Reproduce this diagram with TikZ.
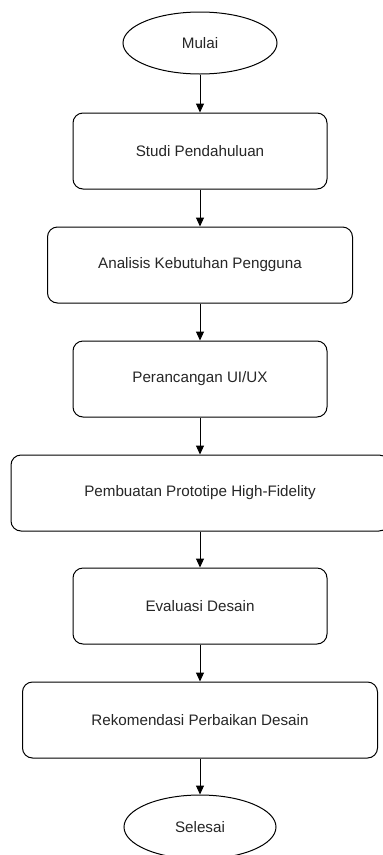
\documentclass[tikz,border=0pt]{standalone}
\usepackage{fontspec}
\setmainfont{Liberation Sans}
\usetikzlibrary{shapes.geometric,arrows.meta}
\begin{document}
\begin{tikzpicture}[x=1pt,y=-1pt,
  every node/.style={font=\fontsize{15.2}{18}\selectfont, text=black!85},
  procbox/.style={draw=black, line width=1pt, rounded corners=10pt, minimum height=76pt, inner sep=0pt},
  terminal/.style={draw=black, line width=1pt, ellipse, inner sep=0pt},
  flow/.style={draw=black, line width=1pt, -{Triangle[length=9pt,width=8pt]}}]
  \clip (0,0) rectangle (383,855);
  \fill[white] (0,0) rectangle (383,855);

  \node[terminal, minimum width=154pt, minimum height=62pt] (start) at (200,43) {Mulai};
  \node[procbox, minimum width=254pt] (studi) at (200,151) {Studi Pendahuluan};
  \node[procbox, minimum width=305pt] (analisis) at (200,265) {Analisis Kebutuhan Pengguna};
  \node[procbox, minimum width=254pt] (rancang) at (200,379) {Perancangan UI/UX};
  \node[procbox, minimum width=378pt] (proto) at (200,493) {Pembuatan Prototipe High-Fidelity};
  \node[procbox, minimum width=254pt] (eval) at (200,606) {Evaluasi Desain};
  \node[procbox, minimum width=355pt] (rekom) at (200,720) {Rekomendasi Perbaikan Desain};
  \node[terminal, minimum width=152pt, minimum height=64pt] (end) at (200,827) {Selesai};

  \draw[flow] (start) -- (studi);
  \draw[flow] (studi) -- (analisis);
  \draw[flow] (analisis) -- (rancang);
  \draw[flow] (rancang) -- (proto);
  \draw[flow] (proto) -- (eval);
  \draw[flow] (eval) -- (rekom);
  \draw[flow] (rekom) -- (end);
\end{tikzpicture}
\end{document}
